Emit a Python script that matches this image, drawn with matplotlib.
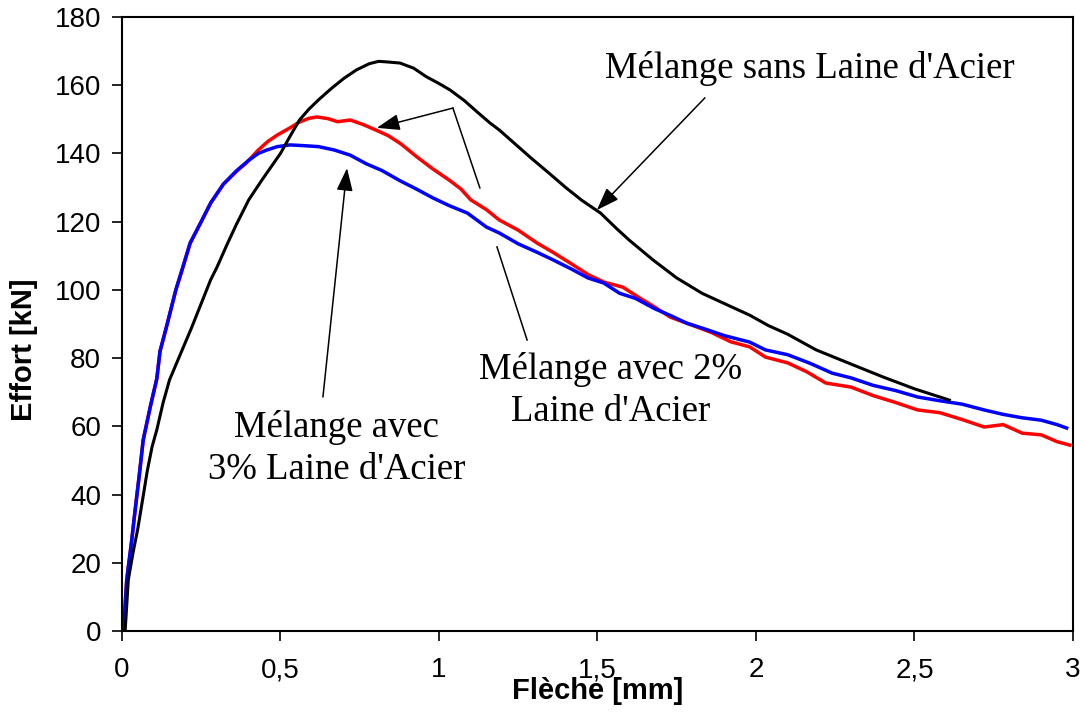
import matplotlib
matplotlib.use('Agg')
import matplotlib.pyplot as plt

# essai de flexion : effort en fonction de la fleche
x_sans = [0.01, 0.02, 0.035, 0.05, 0.066, 0.08, 0.095, 0.11, 0.13, 0.15, 0.17, 0.19, 0.22, 0.25,
          0.28, 0.30, 0.33, 0.36, 0.40, 0.44, 0.47, 0.50, 0.53, 0.56, 0.59, 0.62, 0.66, 0.70, 0.74,
          0.78, 0.81, 0.84, 0.877, 0.92, 0.96, 1.0, 1.035, 1.08, 1.12, 1.16, 1.19, 1.24, 1.29, 1.35,
          1.40, 1.45, 1.51, 1.56, 1.60, 1.675, 1.75, 1.83, 1.90, 1.98, 2.04, 2.10, 2.19, 2.28, 2.40,
          2.50, 2.61]
y_sans = [0, 15, 23, 30, 39, 47, 54, 59, 67, 73.6, 78, 82.4, 89, 96, 103, 106.7, 113, 119, 126.4,
          132, 136, 140, 145, 149.8, 153, 155.7, 159, 162, 164.5, 166.3, 167, 166.8, 166.5, 165,
          162.5, 160.5, 158.6, 155.5, 152.2, 149, 146.9, 142.8, 138.7, 134, 130, 126.3, 122.5, 118,
          114.6, 108.8, 103.5, 99, 96, 92.6, 89.5, 87, 82.4, 79, 74.5, 71, 67.7]

x_2pc = [0.005, 0.015, 0.03, 0.041, 0.055, 0.067, 0.09, 0.11, 0.12, 0.14, 0.17, 0.19, 0.215, 0.25,
         0.28, 0.32, 0.37, 0.39, 0.43, 0.46, 0.49, 0.53, 0.56, 0.59, 0.615, 0.65, 0.68, 0.72, 0.76,
         0.80, 0.84, 0.88, 0.93, 0.98, 1.035, 1.07, 1.10, 1.15, 1.19, 1.25, 1.31, 1.36, 1.42, 1.47,
         1.52, 1.58, 1.63, 1.68, 1.73, 1.80, 1.86, 1.92, 1.98, 2.03, 2.10, 2.16, 2.22, 2.30, 2.37,
         2.44, 2.51, 2.58, 2.65, 2.72, 2.78, 2.84, 2.90, 2.95, 2.99]
y_2pc = [0, 15, 26, 35, 46, 56, 66, 74, 82, 89, 100, 106, 113.7, 120, 125.5, 131, 135.5, 137, 141,
         143.5, 145.4, 147.5, 149.2, 150.3, 150.7, 150.2, 149.3, 149.8, 148.5, 146.9, 145.2, 142.8,
         139, 135.5, 132, 129.5, 126.4, 123.5, 120.5, 117.5, 113.7, 111, 107.5, 104.5, 102.3, 100.8,
         97.8, 95, 92, 89.6, 87.5, 84.8, 83.3, 80.3, 78.6, 76, 72.7, 71.5, 69, 67, 64.8, 64, 62,
         59.8, 60.5, 58, 57.5, 55.5, 54.5]

x_3pc = [0.005, 0.015, 0.03, 0.041, 0.055, 0.067, 0.09, 0.11, 0.12, 0.14, 0.17, 0.19, 0.215, 0.25,
         0.28, 0.32, 0.36, 0.40, 0.43, 0.457, 0.49, 0.53, 0.57, 0.62, 0.67, 0.72, 0.77, 0.82, 0.877,
         0.93, 0.98, 1.03, 1.09, 1.15, 1.19, 1.25, 1.31, 1.36, 1.42, 1.47, 1.52, 1.57, 1.62, 1.68,
         1.73, 1.78, 1.84, 1.90, 1.98, 2.03, 2.10, 2.17, 2.24, 2.30, 2.37, 2.44, 2.51, 2.58, 2.65,
         2.72, 2.78, 2.84, 2.90, 2.95, 2.98]
y_3pc = [0, 15, 26, 35, 46, 56, 66, 74, 82, 89, 100, 106, 113.7, 120, 125.5, 131, 134.8, 138, 140,
         141, 142, 142.5, 142.3, 142, 141, 139.5, 137, 135, 132, 129.5, 127, 124.8, 122.5, 118.4,
         116.7, 113.5, 111, 108.8, 106, 103.5, 102, 99, 97.5, 94.5, 92.5, 90.3, 88.5, 86.6, 84.7,
         82.4, 81, 78.5, 75.6, 74.2, 72, 70.5, 68.6, 67.5, 66.5, 64.8, 63.5, 62.5, 61.8, 60.5, 59.5]

x_ticks = [0, 0.5, 1, 1.5, 2, 2.5, 3]
x_tick_labels = ['0', '0,5', '1', '1,5', '2', '2,5', '3']
y_ticks = [0, 20, 40, 60, 80, 100, 120, 140, 160, 180]

fig = plt.figure(figsize=(10.86, 7.2), dpi=100)
ax = fig.add_axes([0.1123, 0.1236, 0.8757, 0.8528])

ax.plot(x_2pc, y_2pc, color='#ff0000', lw=2.5)
ax.plot(x_3pc, y_3pc, color='#0000ff', lw=2.5)
ax.plot(x_sans, y_sans, color='black', lw=2.2)

ax.set_xlim(0, 3)
ax.set_ylim(0, 180)
ax.set_xticks(x_ticks)
ax.set_xticklabels(x_tick_labels)
ax.set_yticks(y_ticks)
for s in ax.spines.values():
    s.set_linewidth(1.5)
ax.tick_params(direction='out', length=7, width=1.2, labelsize=20)
ax.tick_params(axis='x', pad=12)
ax.tick_params(axis='y', pad=8)
for lab in ax.get_xticklabels() + ax.get_yticklabels():
    lab.set_family('Liberation Sans')

ax.set_xlabel('Flèche [mm]', family='Liberation Sans', fontsize=21, fontweight='bold')
ax.set_ylabel('Effort [kN]', family='Liberation Sans', fontsize=21, fontweight='bold')
ax.xaxis.set_label_coords(0.5, -0.075)
ax.yaxis.set_label_coords(-0.088, 0.458)

serif = dict(family='Liberation Serif', fontsize=26.5, ha='center', va='center', linespacing=1.3)
arrow = dict(arrowstyle='-|>,head_length=0.7,head_width=0.25', lw=1.1, color='black',
             shrinkA=0, shrinkB=0, mutation_scale=20)

# sans laine d'acier
ax.text(2.17, 165, "Mélange sans Laine d'Acier", **serif)
ax.annotate('', xy=(1.498, 123.4), xytext=(1.839, 156.3), arrowprops=arrow)

# 2% laine d'acier
ax.text(1.54, 70.5, "Mélange avec 2%\nLaine d'Acier", **serif)
ax.plot([1.278, 1.183], [85.3, 112.6], color='black', lw=1.1)
ax.plot([1.129, 1.044], [129.9, 153.3], color='black', lw=1.1)
ax.annotate('', xy=(0.804, 147.5), xytext=(1.044, 153.3), arrowprops=arrow)

# 3% laine d'acier
ax.text(0.678, 53.5, "Mélange avec\n3% Laine d'Acier", **serif)
ax.annotate('', xy=(0.710, 135.7), xytext=(0.634, 68.6), arrowprops=arrow)

fig.savefig('out.png', dpi=100)
